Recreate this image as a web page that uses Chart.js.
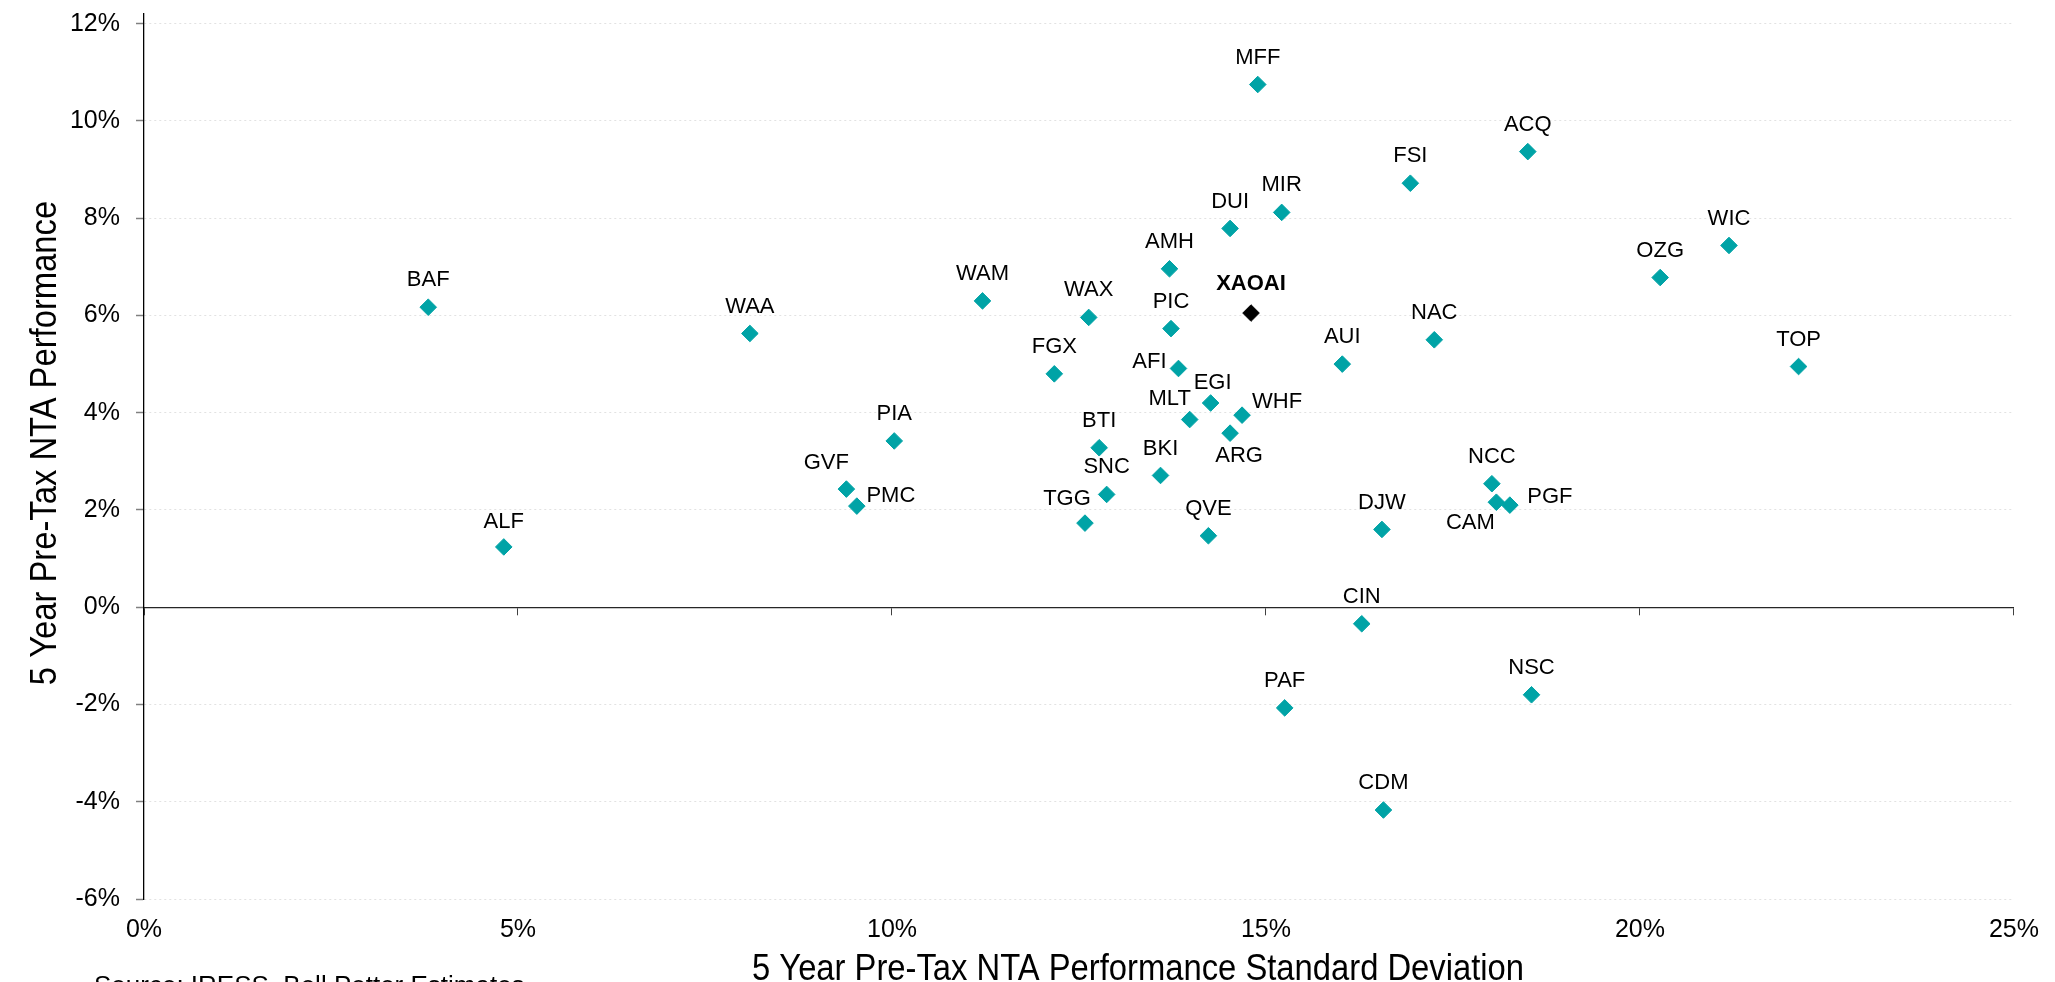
<!DOCTYPE html>
<html>
<head>
<meta charset="utf-8">
<script src="https://cdn.jsdelivr.net/npm/chart.js@4.4.1/dist/chart.umd.min.js"></script>
<style>
  html, body { margin: 0; padding: 0; background: #ffffff; overflow: hidden; }
  #wrap { position: relative; width: 2055px; height: 982px; }
</style>
</head>
<body>
<div id="wrap"><canvas id="c" width="2055" height="982"></canvas></div>
<script>
// ---------------- DATA ----------------
const fundNames = ['BAF','ALF','WAA','GVF','PMC','PIA','WAM','FGX','WAX','TGG','BTI','SNC','BKI','AMH','PIC','AFI','MLT','EGI','QVE','ARG','WHF','DUI','MFF','MIR','PAF','CIN','AUI','DJW','CDM','FSI','NAC','NCC','CAM','PGF','ACQ','NSC','OZG','WIC','TOP'];
const fundStdDev = [3.80, 4.81, 8.10, 9.39, 9.53, 10.03, 11.21, 12.17, 12.63, 12.58, 12.77, 12.87, 13.59, 13.71, 13.73, 13.83, 13.98, 14.26, 14.23, 14.52, 14.68, 14.52, 14.89, 15.21, 15.25, 16.28, 16.02, 16.55, 16.57, 16.93, 17.25, 18.02, 18.08, 18.26, 18.50, 18.55, 20.27, 21.19, 22.12];
const fundPerf = [6.17, 1.24, 5.63, 2.43, 2.08, 3.42, 6.30, 4.80, 5.96, 1.73, 3.28, 2.32, 2.71, 6.96, 5.73, 4.91, 3.86, 4.20, 1.47, 3.58, 3.95, 7.79, 10.75, 8.12, -2.07, -0.34, 5.00, 1.60, -4.17, 8.72, 5.50, 2.54, 2.16, 2.10, 9.37, -1.80, 6.78, 7.44, 4.95];
const indexNames = ['XAOAI'];
const indexStdDev = [14.80];
const indexPerf = [6.05];
const xTickValues = [0, 5, 10, 15, 20, 25];
const yTickValues = [-6, -4, -2, 0, 2, 4, 6, 8, 10, 12];
const xTitle = '5 Year Pre-Tax NTA Performance Standard Deviation';
const yTitle = '5 Year Pre-Tax NTA Performance';
const sourceText = 'Source: IRESS, Bell Potter Estimates';

// ---------------- STYLE ----------------
const FONT = '"Liberation Sans", Arial, Helvetica, sans-serif';
const TEAL = '#00A3A6';
const DEFAULT_LABEL_OFFSET = [0, -27];
const LABEL_OFFSETS = {
  AFI: [-29, -7], EGI: [2, -20], MLT: [-20, -21], WHF: [35, -13], ARG: [9, 23],
  TGG: [-18, -24], GVF: [-20, -26], PMC: [34, -10], CAM: [-26, 21], PGF: [40, -8],
  ALF: [0, -25], XAOAI: [0, -29]
};

function toPoints(xs, ys) { return xs.map((x, i) => ({ x: x, y: ys[i] })); }

const pointLabelPlugin = {
  id: 'pointLabelPlugin',
  afterDatasetsDraw(chart) {
    const ctx = chart.ctx;
    chart.data.datasets.forEach((ds, di) => {
      const meta = chart.getDatasetMeta(di);
      meta.data.forEach((el, i) => {
        const name = ds.pointNames[i];
        const off = LABEL_OFFSETS[name] || DEFAULT_LABEL_OFFSET;
        ctx.save();
        ctx.font = (ds.boldLabel ? 'bold ' : '') + '22px ' + FONT;
        ctx.fillStyle = '#000000';
        ctx.textAlign = 'center';
        ctx.textBaseline = 'middle';
        ctx.fillText(name, el.x + off[0], el.y + off[1]);
        ctx.restore();
      });
    });
  }
};

const titlePlugin = {
  id: 'titlePlugin',
  afterDraw(chart) {
    const ctx = chart.ctx;
    const sx = 0.91;
    ctx.save();
    ctx.fillStyle = '#000000';
    ctx.font = '36px ' + FONT;
    ctx.textAlign = 'center';
    ctx.textBaseline = 'alphabetic';
    // x title
    ctx.save();
    ctx.translate(1138, 980);
    ctx.scale(sx, 1);
    ctx.fillText(xTitle, 0, 0);
    ctx.restore();
    // y title
    ctx.save();
    ctx.translate(56, 443);
    ctx.rotate(-Math.PI / 2);
    ctx.scale(sx, 1);
    ctx.fillText(yTitle, 0, 0);
    ctx.restore();
    // source
    ctx.font = '26px ' + FONT;
    ctx.textAlign = 'left';
    ctx.textBaseline = 'alphabetic';
    ctx.fillText(sourceText, 94, 994);
    ctx.restore();
  }
};

new Chart(document.getElementById('c'), {
  type: 'scatter',
  data: {
    datasets: [
      {
        label: 'LICs',
        pointNames: fundNames,
        data: toPoints(fundStdDev, fundPerf),
        pointStyle: 'rectRot',
        pointRadius: 8.3,
        pointHoverRadius: 8.3,
        backgroundColor: TEAL,
        borderColor: TEAL,
        borderWidth: 1
      },
      {
        label: 'Index',
        pointNames: indexNames,
        boldLabel: true,
        data: toPoints(indexStdDev, indexPerf),
        pointStyle: 'rectRot',
        pointRadius: 8.3,
        pointHoverRadius: 8.3,
        backgroundColor: '#000000',
        borderColor: '#000000',
        borderWidth: 1
      }
    ]
  },
  options: {
    responsive: false,
    animation: false,
    events: [],
    layout: { padding: { left: 0, right: 31, top: 0, bottom: 0 } },
    plugins: { legend: { display: false }, tooltip: { enabled: false }, title: { display: false } },
    scales: {
      x: {
        type: 'linear',
        position: 'bottom',
        min: 0, max: 25,
        afterBuildTicks: (s) => { s.ticks = xTickValues.map(v => ({ value: v })); },
        ticks: { stepSize: 5, padding: 16, color: '#000000', font: { family: FONT, size: 25 }, callback: (v) => v + '%', maxRotation: 0 },
        grid: { display: false, drawTicks: false },
        border: { display: false },
        afterFit: (s) => { s.height = 83; }
      },
      x2: {
        type: 'linear',
        axis: 'x',
        position: { y: 0 },
        min: 0, max: 25,
        afterBuildTicks: (s) => { s.ticks = xTickValues.map(v => ({ value: v })); },
        ticks: { display: false, stepSize: 5 },
        grid: { drawOnChartArea: false, drawTicks: true, tickLength: 7, tickColor: '#404040', tickWidth: 1 },
        border: { display: true, color: '#262626', width: 1.3 },
        afterFit: (s) => { s.height = 0; s.paddingLeft = 0; s.paddingRight = 0; s.paddingTop = 0; s.paddingBottom = 0; }
      },
      y: {
        type: 'linear',
        position: 'left',
        min: -6, max: 12.2,
        afterBuildTicks: (s) => { s.ticks = yTickValues.map(v => ({ value: v })); },
        ticks: { stepSize: 2, padding: 16, color: '#000000', font: { family: FONT, size: 25 }, callback: (v) => v + '%' },
        grid: { color: '#e2e2e2', lineWidth: 1, drawTicks: true, tickLength: 8, tickColor: '#808080', tickWidth: 1.5 },
        border: { display: true, color: '#000000', width: 1.3, dash: [2, 3] },
        afterFit: (s) => { s.width = 144; s.paddingTop = 14; s.paddingBottom = 0; }
      }
    }
  },
  plugins: [pointLabelPlugin, titlePlugin]
});
</script>
</body>
</html>
